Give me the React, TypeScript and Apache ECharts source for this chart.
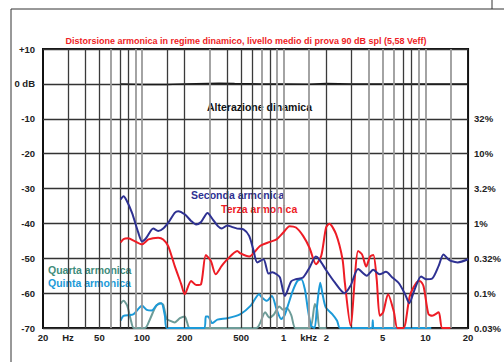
import React, { useEffect, useRef } from "react";
import * as echarts from "echarts";

const freqTicks = [20, 30, 50, 100, 200, 500, 1000, 1500, 2000, 5000, 10000, 20000];
const freqTickLabels = ["20", "Hz", "50", "100", "200", "500", "1", "kHz", "2", "5", "10", "20"];
const gridDark = [30, 40, 50, 70, 80, 150, 200, 400, 500, 600, 800, 2000, 3000, 7000, 8000];
const gridGray = [60, 90, 100, 300, 700, 900, 1000, 1500, 4000, 5000, 6000, 9000, 10000, 15000];
const dbValues = [-70, -60, -50, -40, -30, -20, -10, 0, 10];
const leftTickLabels = ["-70", "-60", "-50", "-40", "-30", "-20", "-10", "0 dB", "+10"];
const rightTickLabels = ["0.03%", "0.1%", "0.32%", "1%", "3.2%", "10%", "32%", "", ""];

const alterazione = [
  [70, 0], [100, -0.2], [150, -0.2], [200, 0], [350, 0.2], [450, 0.1], [700, 0], [1000, 0],
  [1500, -0.1], [2000, 0.1], [3000, 0], [5000, 0], [10000, 0], [20000, 0],
];

const seconda = [
  [70.6, -33.1], [74, -32.2], [78, -33.5], [85, -37], [94, -42.6], [100, -45.2], [107, -44.2],
  [120, -41.5], [130, -42.2], [141, -41.5], [155, -39.5], [170, -37], [180, -36.5], [200, -37.4],
  [222, -39.3], [241, -40.3], [261, -39.6], [290, -37], [316, -38.9], [343, -40.8], [365, -41.5],
  [400, -40.6], [430, -41], [470, -41.5], [520, -41.7], [570, -43.6], [610, -47.5], [650, -51.2],
  [720, -50.3], [781, -54.4], [830, -54], [890, -54.6], [940, -55.5], [1019, -60.8], [1130, -56.6],
  [1220, -56], [1370, -55.5], [1520, -52.7], [1685, -49.5], [1780, -50.3], [2000, -53.5],
  [2300, -57], [2680, -60], [2960, -57.9], [3350, -53.1], [3860, -55], [4280, -53.3], [4750, -54.6],
  [5270, -53.9], [5840, -55.5], [6480, -57.1], [7190, -60.3], [7690, -62.9], [8400, -58.9],
  [9310, -55.2], [10080, -56], [11170, -55.8], [12400, -52.2], [13400, -48.9], [14500, -50.3],
  [15230, -50.8], [16900, -51.2], [20000, -50.3],
];

const terza = [
  [70.6, -45.5], [74, -44.5], [80, -44.3], [88, -45], [100, -46], [111, -44.6], [130, -44.1],
  [141, -44.6], [153, -46.5], [170, -52.2], [189, -57.4], [200, -60.3], [222, -56.5], [241, -57.7],
  [261, -57.4], [282, -49.1], [306, -50.8], [331, -54.6], [365, -52.2], [400, -50.3], [470, -47.9],
  [495, -48.6], [570, -49.5], [680, -46.5], [800, -45.3], [890, -44.6], [990, -42.7], [1100, -40.8],
  [1220, -41.2], [1370, -43.6], [1520, -47], [1690, -51.7], [1840, -49.3], [1990, -41.2],
  [2100, -40.1], [2340, -43.1], [2600, -50.3], [2700, -57], [2960, -69.3], [3350, -47.9],
  [3570, -48.9], [3820, -52.4], [4070, -49.5], [4290, -49.1], [4530, -56], [4760, -66.5],
  [5030, -65.5], [5450, -60.3], [6000, -65.5], [6340, -70], [7000, -70], [7760, -60.8],
  [8650, -57], [9150, -56.5], [9700, -58], [10500, -66], [11150, -66.5], [12400, -65.5],
  [13150, -70], [15000, -70],
];

const quarta = [
  [70.6, -63], [74, -62.2], [78.6, -63.6], [83, -67.4], [87.5, -70], [105, -70], [114, -67.4],
  [124, -64.1], [134, -62.9], [141, -63.3], [149, -67.4], [157, -67.9], [170, -68.4], [185, -67.2],
  [200, -66.7], [208, -68.4], [217, -70], [640, -70], [740, -65.5], [790, -67], [850, -66.2],
  [930, -63.8], [990, -64.8], [1050, -64.3], [1130, -66.3], [1210, -70], [1530, -70],
  [1660, -63.1], [1720, -64.6], [1800, -70], [2000, -70],
];

const quinta = [
  [70.6, -67.9], [74, -66.5], [83, -66.3], [87.5, -66], [100, -63.6], [108, -64.8], [117, -65],
  [127, -63.4], [137, -62.9], [145, -66.5], [150, -70], [275, -70], [282, -66.7], [292, -66.7],
  [313, -68.6], [340, -67.6], [400, -67.2], [495, -66], [585, -63.6], [670, -60.3], [700, -61.2],
  [760, -62.2], [825, -60.8], [890, -64.6], [960, -67.4], [1010, -66.5], [1070, -63.6],
  [1160, -59.3], [1250, -56.5], [1330, -56], [1410, -58.9], [1480, -64.6], [1560, -69.3],
  [1650, -70], [1720, -63.6], [1810, -57], [1880, -60.3], [1980, -64.1], [2200, -66],
  [2380, -67.9], [2500, -70], [4200, -70], [4250, -67.8], [4300, -70], [11000, -70],
];

const FONT = "'Liberation Sans', Arial, sans-serif";
const C_NAVY = "#2e3192";
const C_RED = "#ee1c25";
const C_TEAL = "#6d9c98";
const C_TEAL_TXT = "#3f8c7a";
const C_BLUE = "#1c9ad8";

function nearestIndex(arr: number[], v: number) {
  let best = 0;
  for (let i = 1; i < arr.length; i++) {
    if (Math.abs(Math.log(arr[i]) - Math.log(v)) < Math.abs(Math.log(arr[best]) - Math.log(v))) best = i;
  }
  return best;
}

export default function App() {
  const ref = useRef<HTMLDivElement>(null);
  useEffect(() => {
    if (!ref.current) return;
    const chart = echarts.init(ref.current, undefined, { renderer: "svg" });
    const lineSeries = (name: string, data: number[][], color: string, z: number) => ({
      name,
      type: "line",
      data,
      showSymbol: false,
      symbol: "none",
      smooth: 0.25,
      z,
      lineStyle: { color, width: 2 },
      clip: false,
    });
    const gridLines = [
      ...gridDark.map((f) => ({ xAxis: f, lineStyle: { color: "#3a3a3a", width: 1.3 } })),
      ...gridGray.map((f) => ({ xAxis: f, lineStyle: { color: "#9a9a9a", width: 1.8 } })),
    ];
    chart.setOption({
      animation: false,
      backgroundColor: "#ffffff",
      grid: {
        left: 43,
        top: 49,
        right: 30,
        bottom: 34,
        show: true,
        borderColor: "#111",
        borderWidth: 2,
        z: 0,
      },
      xAxis: {
        type: "log",
        logBase: 10,
        min: 20,
        max: 20000,
        axisLine: { show: false },
        axisTick: { show: false },
        splitLine: { show: false },
        minorSplitLine: { show: false },
        axisLabel: {
          customValues: freqTicks,
          margin: 4,
          fontSize: 9.5,
          fontWeight: "bold",
          fontFamily: FONT,
          color: "#222",
          formatter: (v: number) => freqTickLabels[nearestIndex(freqTicks, v)],
        },
      },
      yAxis: [
        {
          type: "value",
          min: -70,
          max: 10,
          interval: 10,
          axisLine: { show: false },
          axisTick: { show: false },
          splitLine: { show: true, lineStyle: { color: "#333", width: 1.3 } },
          axisLabel: {
            margin: 8,
            fontSize: 9.5,
            fontWeight: "bold",
            fontFamily: FONT,
            color: "#222",
            formatter: (v: number) => leftTickLabels[dbValues.indexOf(Math.round(v))] ?? "",
          },
        },
        {
          type: "value",
          min: -70,
          max: 10,
          interval: 10,
          position: "right",
          axisLine: { show: false },
          axisTick: { show: false },
          splitLine: { show: false },
          axisLabel: {
            margin: 6,
            fontSize: 9.5,
            fontWeight: "bold",
            fontFamily: FONT,
            color: "#222",
            formatter: (v: number) => rightTickLabels[dbValues.indexOf(Math.round(v))] ?? "",
          },
        },
      ],
      series: [
        {
          ...lineSeries("Alterazione dinamica", alterazione, "#1a1a1a", 2),
          smooth: false,
          lineStyle: { color: "#1a1a1a", width: 1.5 },
          markLine: {
            silent: true,
            symbol: ["none", "none"],
            label: { show: false },
            lineStyle: { type: "solid" },
            data: gridLines,
          },
        },
        lineSeries("Quarta armonica", quarta, C_TEAL, 3),
        lineSeries("Quinta armonica", quinta, C_BLUE, 4),
        lineSeries("Terza armonica", terza, C_RED, 5),
        lineSeries("Seconda armonica", seconda, C_NAVY, 6),
      ],
      graphic: [
        { type: "line", shape: { x1: 11, y1: 9, x2: 504, y2: 9 }, style: { stroke: "#333", lineWidth: 1 } },
        { type: "line", shape: { x1: 11, y1: 9, x2: 11, y2: 362 }, style: { stroke: "#333", lineWidth: 1 } },
        { type: "line", shape: { x1: 492, y1: 0, x2: 492, y2: 9 }, style: { stroke: "#333", lineWidth: 1 } },
        {
          type: "text",
          x: 246,
          y: 41,
          style: {
            text: "Distorsione armonica in regime dinamico, livello medio di prova 90 dB spl (5,58 Veff)",
            fill: C_RED,
            font: `bold 9px ${FONT}`,
            textAlign: "center",
            textVerticalAlign: "middle",
          },
        },
        {
          type: "text",
          x: 207,
          y: 107,
          style: { text: "Alterazione dinamica", fill: "#111", font: `bold 10.5px ${FONT}`, textVerticalAlign: "middle" },
        },
        {
          type: "text",
          x: 191,
          y: 195,
          style: { text: "Seconda armonica", fill: C_NAVY, font: `bold 10.5px ${FONT}`, textVerticalAlign: "middle" },
        },
        {
          type: "text",
          x: 221,
          y: 209,
          style: { text: "Terza armonica", fill: C_RED, font: `bold 10.5px ${FONT}`, textVerticalAlign: "middle" },
        },
        {
          type: "text",
          x: 48,
          y: 270,
          style: { text: "Quarta armonica", fill: C_TEAL_TXT, font: `bold 10.5px ${FONT}`, textVerticalAlign: "middle" },
        },
        {
          type: "text",
          x: 48,
          y: 283,
          style: { text: "Quinta armonica", fill: C_BLUE, font: `bold 10.5px ${FONT}`, textVerticalAlign: "middle" },
        },
      ],
    });
    return () => chart.dispose();
  }, []);
  return (
    <div
      ref={ref}
      style={{ position: "absolute", left: 0, top: 0, width: 504, height: 362, background: "#fff" }}
    />
  );
}
